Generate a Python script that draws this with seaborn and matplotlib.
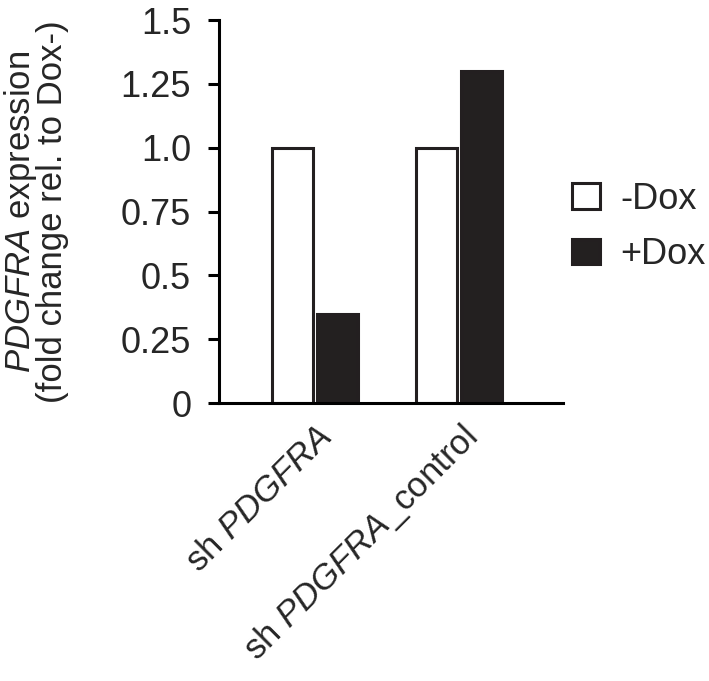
import numpy as np
import pandas as pd
import matplotlib
matplotlib.use("Agg")
import matplotlib.pyplot as plt
import seaborn as sns

# valores (fold change rel. to Dox-)
groups = ["sh PDGFRA", "sh PDGFRA_control"]
conditions = ["-Dox", "+Dox"]
minus_dox = [1.0, 1.0]
plus_dox = [0.35, 1.30]

tick_labels = [r"sh $\it{PDGFRA}$", r"sh $\it{PDGFRA}$_control"]
y_ticks = [0, 0.25, 0.5, 0.75, 1.0, 1.25, 1.5]
y_tick_labels = ["0", "0.25", "0.5", "0.75", "1.0", "1.25", "1.5"]

DARK = "#231f20"
FS = 26

sns.set_style("ticks")
plt.rcParams["font.family"] = ["Liberation Sans", "DejaVu Sans"]
plt.rcParams["mathtext.fontset"] = "custom"
plt.rcParams["mathtext.rm"] = "Liberation Sans"
plt.rcParams["mathtext.it"] = "Liberation Sans:italic"

df = pd.DataFrame({
    "group": groups * 2,
    "condition": [conditions[0]] * 2 + [conditions[1]] * 2,
    "value": minus_dox + plus_dox,
})

fig = plt.figure(figsize=(7.09, 6.81), dpi=100)
ax = fig.add_axes([219 / 709, 1 - 403 / 681, (563 - 219) / 709, (403 - 20) / 681])

sns.barplot(
    data=df, x="group", y="value", hue="condition",
    hue_order=conditions, order=groups,
    palette={"-Dox": "white", "+Dox": DARK},
    edgecolor=DARK, linewidth=2.2,
    width=0.625, gap=0.09,
    ax=ax,
)

ax.set_xlim(-0.667, 1.72)
ax.set_ylim(0, 1.5)
ax.set_yticks(y_ticks)
ax.set_yticklabels(y_tick_labels, fontsize=FS)
ax.set_xticks(range(len(groups)))
# o rótulo comprido tem de caber dentro da figura
ax.set_xticklabels(tick_labels, fontsize=FS - 1, rotation=45, ha="right",
                   rotation_mode="anchor")
ax.tick_params(axis="x", length=0, pad=12)
ax.tick_params(axis="y", length=8, width=2.2, color="black", pad=12)

sns.despine(ax=ax)
for side in ["left", "bottom"]:
    ax.spines[side].set_linewidth(2.2)
    ax.spines[side].set_color("black")

ax.set_xlabel("")
ax.set_ylabel(r"$\it{PDGFRA}$ expression" + "\n(fold change rel. to Dox-)",
              fontsize=FS - 1, linespacing=0.9)
ax.yaxis.set_label_coords(-0.436, 0.5)

sns.move_legend(
    ax, loc="center left", bbox_to_anchor=(572 / 709, 1 - 227 / 681),
    bbox_transform=fig.transFigure, frameon=False, title=None,
    fontsize=FS, handlelength=0.78, handleheight=0.72,
    handletextpad=0.55, labelspacing=0.56, borderpad=0, borderaxespad=0,
)

plt.savefig("out.png", dpi=100)
plt.close()
